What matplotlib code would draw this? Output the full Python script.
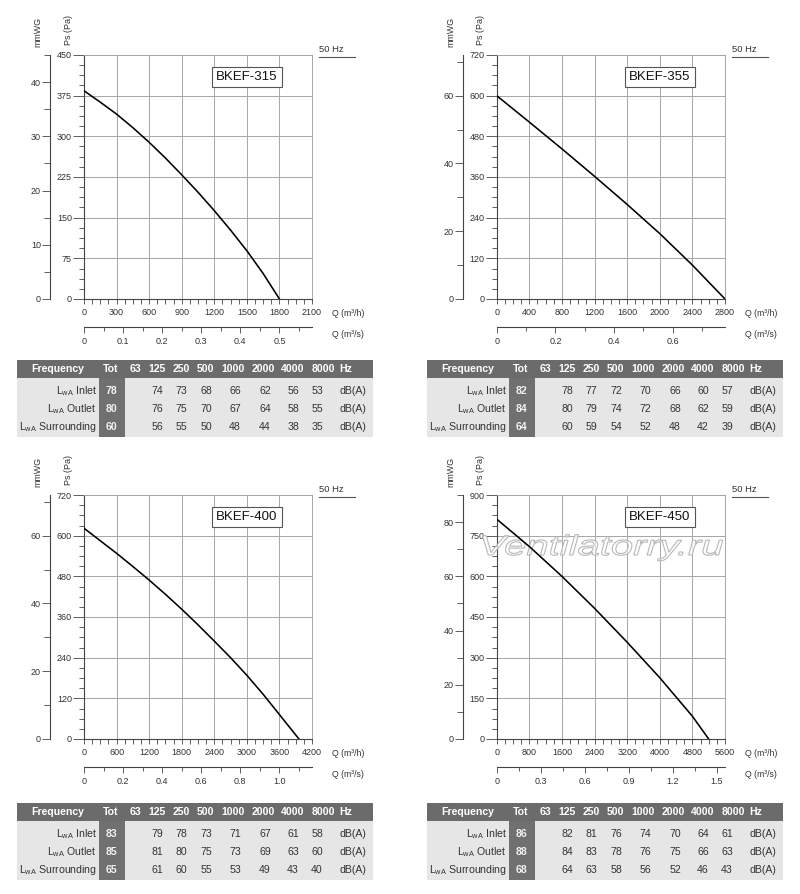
import matplotlib
matplotlib.use('Agg')
import matplotlib.pyplot as plt
from matplotlib.ticker import MultipleLocator, FuncFormatter
from matplotlib.patches import Rectangle, PathPatch
from matplotlib.textpath import TextPath
from matplotlib.font_manager import FontProperties
from matplotlib.transforms import Affine2D

plt.rcParams['font.family'] = ['Liberation Sans', 'DejaVu Sans']
plt.rcParams['mathtext.fontset'] = 'custom'
plt.rcParams['mathtext.rm'] = 'Liberation Sans'
plt.rcParams['mathtext.it'] = 'Liberation Sans:italic'
plt.rcParams['mathtext.bf'] = 'Liberation Sans:bold'

# ---------------- data ----------------
models = ['BKEF-315', 'BKEF-355', 'BKEF-400', 'BKEF-450']

q315 = [0, 150, 300, 450, 600, 750, 900, 1050, 1200, 1350, 1500, 1650, 1800]
p315 = [384, 363, 341, 316, 289, 260, 229, 197, 163, 127, 89, 47, 0]

q355 = [0, 400, 800, 1200, 1600, 2000, 2400, 2800]
p355 = [600, 522, 443, 362, 279, 193, 100, 0]

q400 = [0, 300, 600, 900, 1200, 1500, 1800, 2100, 2400, 2700, 3000, 3300, 3600, 3960]
p400 = [622, 585, 548, 509, 469, 427, 383, 337, 289, 240, 188, 132, 72, 0]

q450 = [0, 800, 1600, 2400, 3200, 4000, 4800, 5200]
p450 = [811, 710, 600, 482, 357, 226, 84, 0]

freq_bands = ['63', '125', '250', '500', '1000', '2000', '4000', '8000']
row_names = ['Inlet', 'Outlet', 'Surrounding']

tot315 = [78, 80, 60]
inlet315 = [None, 74, 73, 68, 66, 62, 56, 53]
outlet315 = [None, 76, 75, 70, 67, 64, 58, 55]
surr315 = [None, 56, 55, 50, 48, 44, 38, 35]

tot355 = [82, 84, 64]
inlet355 = [None, 78, 77, 72, 70, 66, 60, 57]
outlet355 = [None, 80, 79, 74, 72, 68, 62, 59]
surr355 = [None, 60, 59, 54, 52, 48, 42, 39]

tot400 = [83, 85, 65]
inlet400 = [None, 79, 78, 73, 71, 67, 61, 58]
outlet400 = [None, 81, 80, 75, 73, 69, 63, 60]
surr400 = [None, 61, 60, 55, 53, 49, 43, 40]

tot450 = [86, 88, 68]
inlet450 = [None, 82, 81, 76, 74, 70, 64, 61]
outlet450 = [None, 84, 83, 78, 76, 75, 66, 63]
surr450 = [None, 64, 63, 58, 56, 52, 46, 43]

# axis ranges per model: (Qmax m3/h, Q step, Pa max, Pa step, mmWG step, m3/s step)
ranges = [
    (2100, 300, 450, 75, 10, 0.1),
    (2800, 400, 720, 120, 20, 0.2),
    (4200, 600, 720, 120, 20, 0.2),
    (5600, 800, 900, 150, 20, 0.3),
]

curves = [(q315, p315), (q355, p355), (q400, p400), (q450, p450)]
tables = [
    (tot315, [inlet315, outlet315, surr315]),
    (tot355, [inlet355, outlet355, surr355]),
    (tot400, [inlet400, outlet400, surr400]),
    (tot450, [inlet450, outlet450, surr450]),
]

# ---------------- layout ----------------
W, H = 800, 894
fig = plt.figure(figsize=(W / 100, H / 100), dpi=100)
fig.patch.set_facecolor('white')


def rect(x0, y0, x1, y1):
    return [x0 / W, 1 - y1 / H, (x1 - x0) / W, (y1 - y0) / H]


plot_boxes = [
    (84, 55, 312, 299),
    (496.7, 55, 725, 299),
    (84, 495, 312, 739),
    (496.7, 495, 725, 739),
]
table_origin = [(17, 360), (427, 360), (17, 803), (427, 803)]

TXT = '#333333'
GRID = '#a6a6a6'
SPINE = '#444444'


def fmt_ms(v, _):
    if abs(v) < 1e-9:
        return '0'
    return f'{v:.1f}'


axes = []
for i, name in enumerate(models):
    qmax, qstep, pmax, pstep, mstep, sstep = ranges[i]
    q, p = curves[i]
    ax = fig.add_axes(rect(*plot_boxes[i]))
    axes.append(ax)
    ax.plot(q, p, color='black', lw=1.15, zorder=4, solid_joinstyle='round')
    ax.set_xlim(0, qmax)
    ax.set_ylim(0, pmax)
    ax.xaxis.set_major_locator(MultipleLocator(qstep))
    ax.xaxis.set_minor_locator(MultipleLocator(qstep / 4))
    ax.yaxis.set_major_locator(MultipleLocator(pstep))
    ax.yaxis.set_minor_locator(MultipleLocator(pstep / 4))
    ax.set_axisbelow(True)
    ax.grid(which='major', color=GRID, lw=0.7)
    for s in ['top', 'right']:
        ax.spines[s].set_color(GRID)
        ax.spines[s].set_linewidth(0.7)
    for s in ['left', 'bottom']:
        ax.spines[s].set_color(SPINE)
        ax.spines[s].set_linewidth(0.8)
    ax.tick_params(axis='both', which='both', color=SPINE, width=0.6,
                   labelcolor=TXT, labelsize=6.5)
    ax.tick_params(axis='x', which='major', length=3.6, pad=2.6)
    ax.tick_params(axis='x', which='minor', length=3.6)
    ax.tick_params(axis='y', which='major', length=7.9, pad=0.8)
    ax.tick_params(axis='y', which='minor', length=3.6)

    # mmWG axis
    sy = ax.secondary_yaxis(-0.149, functions=(lambda v: v / 10, lambda v: v * 10))
    sy.yaxis.set_major_locator(MultipleLocator(mstep))
    sy.yaxis.set_minor_locator(MultipleLocator(mstep / 2))
    sy.spines['left'].set_color(SPINE)
    sy.spines['left'].set_linewidth(0.8)
    sy.tick_params(which='both', color=SPINE, width=0.6, labelcolor=TXT, labelsize=6.5)
    sy.tick_params(which='major', length=5.5, pad=1.0)
    sy.tick_params(which='minor', length=4.3)

    # m3/s axis
    sx = ax.secondary_xaxis(-0.1148, functions=(lambda v: v / 3600, lambda v: v * 3600))
    sx.xaxis.set_major_locator(MultipleLocator(sstep))
    sx.xaxis.set_minor_locator(MultipleLocator(sstep / 2))
    sx.xaxis.set_major_formatter(FuncFormatter(fmt_ms))
    sx.spines['bottom'].set_color(SPINE)
    sx.spines['bottom'].set_linewidth(0.8)
    sx.tick_params(which='both', color=SPINE, width=0.6, labelcolor=TXT, labelsize=6.5)
    sx.tick_params(which='major', length=4.3, pad=3.0)
    sx.tick_params(which='minor', length=2.9)

    # labels
    ax.text(-0.2018, 1.094, 'mmWG', rotation=90, ha='center', va='center',
            fontsize=6.4, color=TXT, transform=ax.transAxes)
    ax.text(-0.070, 1.102, 'Ps (Pa)', rotation=90, ha='center', va='center',
            fontsize=6.5, color=TXT, transform=ax.transAxes)
    ax.text(1.031, 1.022, '50 Hz', ha='left', va='center', fontsize=6.8,
            color=TXT, transform=ax.transAxes)
    ax.plot([1.031, 1.189], [0.992, 0.992], color='#555555', lw=0.8,
            transform=ax.transAxes, clip_on=False)
    ax.text(1.088, -0.0574, 'Q (m³/h)', ha='left', va='center', fontsize=6.3,
            color=TXT, transform=ax.transAxes)
    ax.text(1.088, -0.1475, 'Q (m³/s)', ha='left', va='center', fontsize=6.3,
            color=TXT, transform=ax.transAxes)
    ax.text(0.715, 0.910, name, ha='center', va='center', fontsize=9.5,
            color='#111111', transform=ax.transAxes, zorder=5,
            bbox=dict(boxstyle='square,pad=0.3', fc='white', ec='#555555', lw=0.8))

# watermark on the last chart
tp = TextPath((0, 0), 'Ventilatorry.ru', size=1,
              prop=FontProperties(family='Liberation Sans', style='italic'))
wm_tr = Affine2D().scale(40 / 100, 28 / 100).translate(479 / 100, (H - 555) / 100) + fig.dpi_scale_trans
wm = PathPatch(tp, transform=wm_tr, facecolor=(1, 1, 1, 0.7), edgecolor='#b8b8b8',
               lw=0.8, zorder=3, clip_on=False)
axes[3].add_artist(wm)

# ---------------- tables ----------------
HDR = '#6b6b6b'
TOTC = '#707070'
ROWBG = '#e6e6e6'
TW, TH = 356, 77
hdr_h = 18
band_x = [118, 140, 164, 188, 216, 246, 276, 306]
val_x = [118, 140.5, 164, 189, 218, 248, 276, 300]
row_y = [31, 49, 67]

for i in range(4):
    tx0, ty0 = table_origin[i]
    tot, rows = tables[i]
    tax = fig.add_axes(rect(tx0, ty0, tx0 + TW, ty0 + TH))
    tax.set_xlim(0, TW)
    tax.set_ylim(TH, 0)
    tax.axis('off')
    tax.add_patch(Rectangle((0, hdr_h), TW, TH - hdr_h, fc=ROWBG, ec='none'))
    tax.add_patch(Rectangle((0, 0), TW, hdr_h, fc=HDR, ec='none'))
    tax.add_patch(Rectangle((82, hdr_h), 26, TH - hdr_h, fc=TOTC, ec='none'))
    hk = dict(color='white', fontsize=7.6, fontweight='bold', va='center')
    tax.text(41, 9, 'Frequency', ha='center', **hk)
    tax.text(94, 9, 'Tot', ha='center', **hk)
    for bx, b in zip(band_x, freq_bands):
        tax.text(bx, 9, b, ha='center', **hk)
    tax.text(322, 9, 'Hz', ha='left', **hk)
    for r, (ry, rn) in enumerate(zip(row_y, row_names)):
        tax.text(79.7, ry, 'L$_{\\mathrm{wA}}$ ' + rn, ha='right', va='center',
                 fontsize=7.6, color=TXT)
        tax.text(94, ry, str(tot[r]), ha='center', va='center', fontsize=7.6,
                 fontweight='bold', color='#f2f2f2')
        for vx, v in zip(val_x, rows[r]):
            if v is not None:
                tax.text(vx, ry, str(v), ha='center', va='center', fontsize=7.6, color=TXT)
        tax.text(322, ry, 'dB(A)', ha='left', va='center', fontsize=7.6, color=TXT)

fig.savefig('out.png', dpi=100, facecolor='white')
